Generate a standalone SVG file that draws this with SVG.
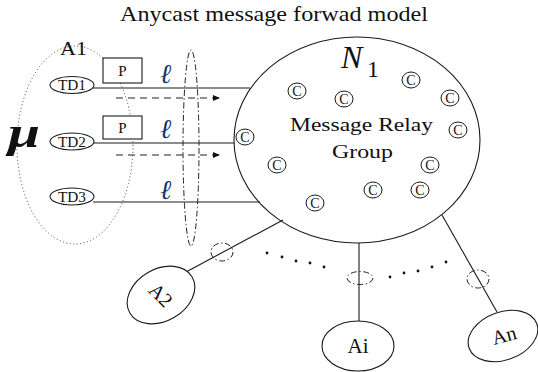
<svg xmlns="http://www.w3.org/2000/svg" width="538" height="372" viewBox="0 0 538 372">
<style>
.ln{stroke:#1a1a1a;stroke-width:1.1;fill:none}
.nd{stroke:#1a1a1a;stroke-width:1.1;fill:#fff}
.t{font-family:"Liberation Serif","Times New Roman",serif;fill:#111}
.dd{stroke:#222;stroke-width:1;fill:none;stroke-dasharray:6,2.5,1.5,2.5}
.da{stroke:#222;stroke-width:1.1;fill:none;stroke-dasharray:7,5}
.c{stroke:#1a1a1a;stroke-width:1;fill:#fff}
.ell{font-family:"DejaVu Serif","Liberation Serif",serif;font-style:italic;font-size:27px;fill:#15336e}
</style>
<defs>
<marker id="ah" markerWidth="8" markerHeight="8" refX="7" refY="4" orient="auto" markerUnits="userSpaceOnUse">
<path d="M0,1 L7,4 L0,7 Z" fill="#111"/>
</marker>
</defs>
<rect width="538" height="372" fill="#fff"/>
<text id="title" class="t" x="120" y="21" font-size="21" textLength="308" lengthAdjust="spacingAndGlyphs">Anycast message forwad model</text>

<g id="connectors">
<line class="ln" x1="93" y1="88" x2="250" y2="88"/>
<line class="ln" x1="93" y1="143" x2="234" y2="143"/>
<line class="ln" x1="93" y1="202" x2="260" y2="202"/>
<line class="da" x1="116" y1="98" x2="220" y2="98" marker-end="url(#ah)"/>
<line class="da" x1="116" y1="155" x2="220" y2="155" marker-end="url(#ah)"/>
<line class="ln" x1="186" y1="272" x2="283" y2="220"/>
<line class="ln" x1="359" y1="243" x2="359" y2="321"/>
<line class="ln" x1="442" y1="215" x2="497" y2="312"/>
<ellipse class="dd" cx="222" cy="252" rx="11" ry="9"/>
<ellipse class="dd" cx="360" cy="278" rx="13" ry="6.5"/>
<ellipse class="dd" cx="478" cy="279" rx="11" ry="9"/>
<g fill="#111">
<circle cx="267" cy="253" r="1.4"/><circle cx="282" cy="257" r="1.4"/><circle cx="296" cy="261" r="1.4"/><circle cx="310" cy="263" r="1.4"/><circle cx="324" cy="267" r="1.4"/>
<circle cx="390" cy="277" r="1.4"/><circle cx="404" cy="273" r="1.4"/><circle cx="418" cy="271" r="1.4"/><circle cx="432" cy="267" r="1.4"/><circle cx="446" cy="262" r="1.4"/>
</g>
</g>

<g id="A1">
<ellipse cx="75" cy="145" rx="58" ry="99" fill="none" stroke="#444" stroke-width="1" stroke-dasharray="1,2.5"/>
<text class="t" x="60" y="55" font-size="18" textLength="27" lengthAdjust="spacingAndGlyphs">A1</text>
<text class="t" x="8" y="147" font-size="44" font-style="italic" font-weight="bold" textLength="32" lengthAdjust="spacingAndGlyphs">μ</text>
</g>

<g id="TD1"><ellipse class="nd" cx="72" cy="85" rx="22" ry="8.5"/><text class="t" x="72" y="90" font-size="15" text-anchor="middle" textLength="28" lengthAdjust="spacingAndGlyphs">TD1</text></g>
<g id="TD2"><ellipse class="nd" cx="72" cy="141.5" rx="22" ry="8.5"/><text class="t" x="72" y="146.5" font-size="15" text-anchor="middle" textLength="28" lengthAdjust="spacingAndGlyphs">TD2</text></g>
<g id="TD3"><ellipse class="nd" cx="72" cy="196.5" rx="22" ry="8.5"/><text class="t" x="72" y="201.5" font-size="15" text-anchor="middle" textLength="28" lengthAdjust="spacingAndGlyphs">TD3</text></g>

<g id="P1"><rect class="nd" x="103" y="58" width="39" height="25"/><text class="t" x="122.5" y="76" font-size="15" text-anchor="middle">P</text></g>
<g id="P2"><rect class="nd" x="103" y="116" width="39" height="23"/><text class="t" x="122.5" y="133" font-size="15" text-anchor="middle">P</text></g>

<g id="links">
<text class="ell" x="160" y="83">ℓ</text>
<text class="ell" x="160" y="138">ℓ</text>
<text class="ell" x="160" y="199">ℓ</text>
<ellipse class="dd" cx="191" cy="148" rx="8" ry="98"/>
</g>

<g id="N1">
<ellipse class="ln" cx="357" cy="140" rx="123" ry="103"/>
<text class="t" x="341" y="68" font-size="32" font-style="italic">N</text>
<text class="t" x="367" y="77" font-size="24">1</text>
<text class="t" x="361.5" y="131" font-size="19" text-anchor="middle" textLength="143" lengthAdjust="spacingAndGlyphs">Message Relay</text>
<text class="t" x="362.5" y="158" font-size="19" text-anchor="middle" textLength="61" lengthAdjust="spacingAndGlyphs">Group</text>
<g font-family="Liberation Serif, serif" font-size="14" text-anchor="middle" fill="#111">
<ellipse class="c" cx="297" cy="91" rx="9" ry="8"/><text x="297" y="96">C</text>
<ellipse class="c" cx="344" cy="99" rx="9" ry="8"/><text x="344" y="104">C</text>
<ellipse class="c" cx="411" cy="80" rx="9" ry="8"/><text x="411" y="85">C</text>
<ellipse class="c" cx="450" cy="98" rx="9" ry="8"/><text x="450" y="103">C</text>
<ellipse class="c" cx="245" cy="137" rx="9" ry="8"/><text x="245" y="142">C</text>
<ellipse class="c" cx="458" cy="130" rx="9" ry="8"/><text x="458" y="135">C</text>
<ellipse class="c" cx="277" cy="165" rx="9" ry="8"/><text x="277" y="170">C</text>
<ellipse class="c" cx="430" cy="165" rx="9" ry="8"/><text x="430" y="170">C</text>
<ellipse class="c" cx="373" cy="190" rx="9" ry="8"/><text x="373" y="195">C</text>
<ellipse class="c" cx="420" cy="190" rx="9" ry="8"/><text x="420" y="195">C</text>
<ellipse class="c" cx="315" cy="203" rx="9" ry="8"/><text x="315" y="208">C</text>
</g>
</g>

<g id="A2">
<ellipse class="nd" cx="0" cy="0" rx="36" ry="26" transform="translate(161,295) rotate(-30)"/>
<text class="t" x="0" y="7" font-size="20" text-anchor="middle" transform="translate(161,295) rotate(45)">A2</text>
</g>
<g id="Ai">
<ellipse class="nd" cx="358" cy="346" rx="36" ry="25"/>
<text class="t" x="358" y="353" font-size="21" text-anchor="middle">Ai</text>
</g>
<g id="An">
<ellipse class="nd" cx="0" cy="0" rx="36" ry="24" transform="translate(503,336) rotate(-20)"/>
<text class="t" x="0" y="7" font-size="20" text-anchor="middle" transform="translate(504,335) rotate(-15)">An</text>
</g>
</svg>
